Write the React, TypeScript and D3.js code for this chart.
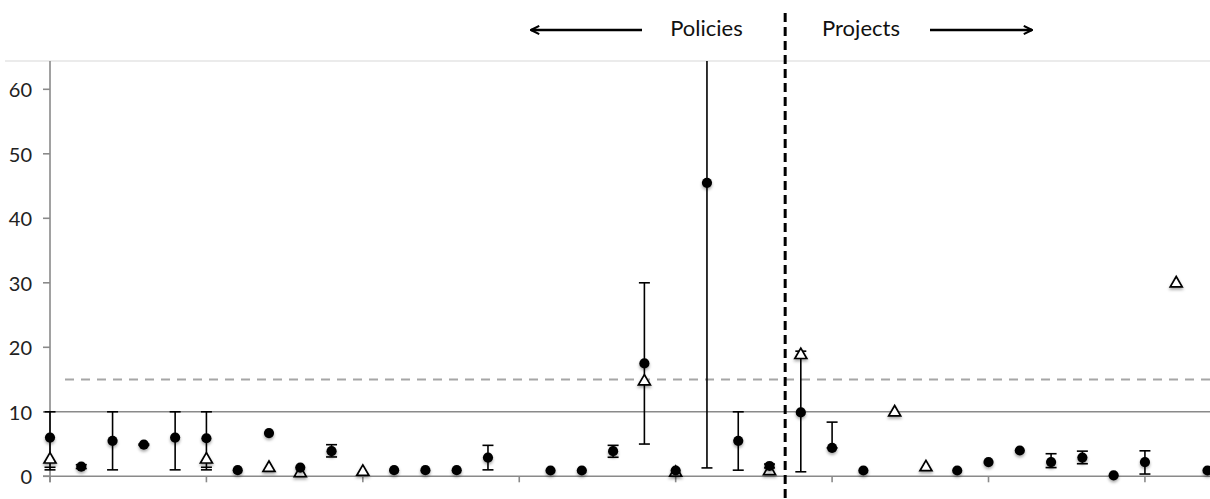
import React from "react";
import * as d3 from "d3";

// ---- data (index = position along x axis, 0..37) ----
const circleValues: (number | null)[] = [
  6, 1.5, 5.5, 4.9, 6, 5.9, 0.95, 6.7, 1.35, 3.9,
  null, 0.95, 0.95, 0.95, 2.9, null, 0.9, 0.9, 3.9, 17.5,
  0.9, 45.5, 5.5, 1.6, 9.9, 4.4, 0.9, null, null, 0.9,
  2.2, 4.0, 2.2, 2.9, 0.15, 2.2, null, 0.9,
];
const circleLow: (number | null)[] = [
  1, 1.2, 1, 4.8, 1, 1, null, null, null, 3.0,
  null, null, null, null, 1.0, null, null, null, 2.95, 5,
  null, 1.3, 0.95, 1.3, 0.7, 4.4, null, null, null, null,
  null, null, 1.35, 1.95, null, 0.35, null, null,
];
const circleHigh: (number | null)[] = [
  10, 1.8, 10, 5.0, 10, 10, null, null, null, 4.9,
  null, null, null, null, 4.8, null, null, null, 4.8, 30,
  null, 80, 10, 1.9, 19.4, 8.4, null, null, null, null,
  null, null, 3.5, 3.9, null, 3.95, null, null,
];
const triangleValues: (number | null)[] = [
  2.6, null, null, null, null, 2.6, null, 1.3, 0.5, null,
  0.7, null, null, null, null, null, null, null, null, 14.7,
  0.55, null, null, 0.8, 18.8, null, null, 9.9, 1.4, null,
  null, null, null, null, null, null, 29.9, null,
];
const triangleLow: (number | null)[] = [
  1.4, null, null, null, null, 1.4, null, null, null, null,
  null, null, null, null, null, null, null, null, null, null,
  null, null, null, null, null, null, null, null, null, null,
  null, null, null, null, null, null, null, null,
];
const yTicks = [0, 10, 20, 30, 40, 50, 60];
const xTicks = [0, 5, 10, 15, 20, 25, 30, 35];
const solidRef = 10;
const dashedRef = 15;
const leftLabel = "Policies";
const rightLabel = "Projects";
const dividerIndex = 23.5;

const W = 1210;
const H = 499;

export default function App() {
  const x = d3.scaleLinear().domain([0, 37]).range([50, 1207.5]);
  const y = d3.scaleLinear().domain([0, 60]).range([476.3, 89.3]);
  const plotTop = 61;
  const capHalf = 5.5;
  const triPath = d3.symbol().type(d3.symbolTriangle).size(62)() as string;

  const idx = d3.range(circleValues.length);

  return (
    <svg
      width={W}
      height={H}
      style={{ position: "absolute", left: 0, top: 0, display: "block", background: "#fff" }}
      fontFamily="Lato, 'Open Sans', sans-serif"
    >
      <defs>
        <filter id="shadow" x="-50%" y="-50%" width="200%" height="220%">
          <feDropShadow dx="0" dy="2" stdDeviation="1.4" floodColor="#000" floodOpacity="0.35" />
        </filter>
        <clipPath id="plotClip">
          <rect x={0} y={plotTop} width={W} height={H - plotTop} />
        </clipPath>
        <marker
          id="arrowHead"
          viewBox="0 0 12 12"
          refX="10.5"
          refY="6"
          markerWidth="4.4"
          markerHeight="4.4"
          orient="auto"
        >
          <path d="M1.5,1.5 L10.5,6 L1.5,10.5" fill="none" stroke="#000" strokeWidth="2.2" strokeLinejoin="miter" />
        </marker>
      </defs>

      {/* top light border */}
      <line x1={5} x2={W} y1={plotTop} y2={plotTop} stroke="#e4e4e4" strokeWidth={1.5} />

      {/* y axis */}
      <line x1={50} x2={50} y1={plotTop} y2={y(0) + 6} stroke="#8a8a8a" strokeWidth={1.6} />
      {yTicks.map((t) => (
        <g key={t}>
          <line x1={43} x2={50} y1={y(t)} y2={y(t)} stroke="#8a8a8a" strokeWidth={1.6} />
          <text x={32} y={y(t) + 8} textAnchor="end" fontSize={20} fill="#222">
            {t}
          </text>
        </g>
      ))}

      {/* x axis */}
      <line x1={43} x2={W} y1={y(0)} y2={y(0)} stroke="#8a8a8a" strokeWidth={1.6} />
      {xTicks.map((t) => (
        <line key={t} x1={x(t)} x2={x(t)} y1={y(0)} y2={y(0) + 6} stroke="#8a8a8a" strokeWidth={1.6} />
      ))}

      {/* reference lines */}
      <line x1={43} x2={W} y1={y(solidRef)} y2={y(solidRef)} stroke="#8a8a8a" strokeWidth={1.6} />
      <line
        x1={65}
        x2={W}
        y1={y(dashedRef)}
        y2={y(dashedRef)}
        stroke="#a6a6a6"
        strokeWidth={2}
        strokeDasharray="9 7"
      />

      <g clipPath="url(#plotClip)">
        {/* error bars */}
        {idx.map((i) => {
          const lo = circleLow[i];
          const hi = circleHigh[i];
          if (lo == null || hi == null) return null;
          const cx = x(i);
          return (
            <g key={"e" + i} stroke="#000" strokeWidth={1.6}>
              <line x1={cx} x2={cx} y1={y(lo)} y2={y(hi)} />
              <line x1={cx - capHalf} x2={cx + capHalf} y1={y(lo)} y2={y(lo)} />
              <line x1={cx - capHalf} x2={cx + capHalf} y1={y(hi)} y2={y(hi)} />
            </g>
          );
        })}
        {idx.map((i) => {
          const lo = triangleLow[i];
          if (lo == null) return null;
          const cx = x(i);
          return (
            <line key={"te" + i} x1={cx - capHalf} x2={cx + capHalf} y1={y(lo)} y2={y(lo)} stroke="#000" strokeWidth={1.6} />
          );
        })}

        {/* triangles */}
        {idx.map((i) => {
          const v = triangleValues[i];
          if (v == null) return null;
          return (
            <path
              key={"t" + i}
              d={triPath}
              transform={`translate(${x(i)},${y(v)})`}
              fill="#fff"
              stroke="#000"
              strokeWidth={1.7}
              filter="url(#shadow)"
            />
          );
        })}

        {/* circles */}
        {idx.map((i) => {
          const v = circleValues[i];
          if (v == null) return null;
          return <circle key={"c" + i} cx={x(i)} cy={y(v)} r={5.1} fill="#000" filter="url(#shadow)" />;
        })}
      </g>

      {/* divider */}
      <line
        x1={x(dividerIndex)}
        x2={x(dividerIndex)}
        y1={13}
        y2={H}
        stroke="#000"
        strokeWidth={3}
        strokeDasharray="9 5"
      />

      {/* labels + arrows */}
      <text x={706.5} y={36} textAnchor="middle" fontSize={22} fill="#111">
        {leftLabel}
      </text>
      <text x={861} y={36} textAnchor="middle" fontSize={22} fill="#111">
        {rightLabel}
      </text>
      <line x1={642} x2={531} y1={30} y2={30} stroke="#000" strokeWidth={2.5} markerEnd="url(#arrowHead)" />
      <line x1={930} x2={1032} y1={30} y2={30} stroke="#000" strokeWidth={2.5} markerEnd="url(#arrowHead)" />
    </svg>
  );
}
